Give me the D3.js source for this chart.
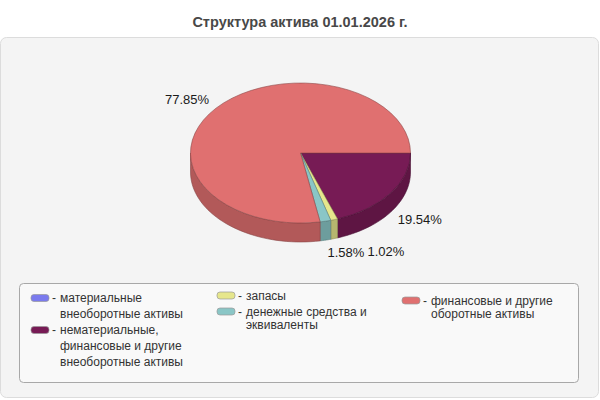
<!DOCTYPE html>
<html>
<head>
<meta charset="UTF-8" />
<title>Структура актива 01.01.2026 г.</title>
<script src="https://cdn.jsdelivr.net/npm/d3@7"></script>
<style>
body { margin:0; background:#fff; }
text { font-family: "Liberation Sans", Arial, sans-serif; }
</style>
</head>
<body>
<div id="chart"></div>
<script type="text/javascript">
// data
var title = 'Структура актива 01.01.2026 г.';
var categories = ['материальные внеоборотные активы',
                  'нематериальные, финансовые и другие внеоборотные активы',
                  'запасы',
                  'денежные средства и эквиваленты',
                  'финансовые и другие оборотные активы'];
var values = [0, 19.54, 1.02, 1.58, 77.85];
var colors = ['#7b7bee', '#771b55', '#e6e68c', '#8ac6c6', '#e07070'];
// legend lines (wrapped as in picture), column of each item
var legendLines = [['материальные', 'внеоборотные активы'],
                   ['нематериальные,', 'финансовые и другие', 'внеоборотные активы'],
                   ['запасы'],
                   ['денежные средства и', 'эквиваленты'],
                   ['финансовые и другие', 'оборотные активы']];
var legendCol = [0, 0, 1, 1, 2];

var w = 600, h = 400;
var cx = 300.5, cy = 153, rx = 110, ry = 70, depth = 19;

var svg = d3.select('#chart').append('svg')
            .attr('width', w).attr('height', h);

svg.append('text')
   .attr('x', w/2).attr('y', 27)
   .attr('text-anchor', 'middle')
   .style('font-size', '14.5px').style('font-weight', 'bold')
   .attr('fill', '#484848')
   .text(title);

svg.append('rect')
   .attr('x', 0.5).attr('y', 37.5).attr('width', 598).attr('height', 360)
   .attr('rx', 6)
   .attr('fill', '#f4f4f4').attr('stroke', '#dcdcdc');

// pie: d3 angle 0 is at 12 o'clock, the chart starts at 3 o'clock
var pie = d3.pie().sort(null).value(function(d){ return d; })
            .startAngle(Math.PI/2).endAngle(Math.PI/2 + 2*Math.PI);
var arcs = pie(values);
var arc = d3.arc().innerRadius(0).outerRadius(rx);

function pt(t, r1, r2, dy){
  return [cx + r1*Math.cos(t), cy + r2*Math.sin(t) + (dy||0)];
}

// side walls (front half only)
var sides = svg.append('g');
var line = d3.line();
arcs.forEach(function(a, i){
  if (a.value <= 0) return;
  var t0 = a.startAngle - Math.PI/2, t1 = a.endAngle - Math.PI/2;
  // bring into the range where the front part is [0, PI]
  [0, 2*Math.PI].forEach(function(off){
    var s = Math.max(t0 - off, 0), e = Math.min(t1 - off, Math.PI);
    if (e <= s) return;
    var n = 40, top = [], bot = [];
    for (var k = 0; k <= n; k++){
      var t = s + (e - s)*k/n;
      top.push(pt(t, rx, ry));
      bot.push(pt(t, rx, ry, depth));
    }
    var c = d3.color(colors[i]).darker(0.65);
    sides.append('path')
         .attr('d', line(top.concat(bot.reverse())) + 'Z')
         .attr('fill', c)
         .attr('stroke', d3.color(colors[i]).darker(1.4))
         .attr('stroke-width', 0.6);
  });
});

// top faces
var tops = svg.append('g')
              .attr('transform', 'translate(' + cx + ',' + cy + ') scale(1,' + (ry/rx) + ')');
tops.selectAll('path')
    .data(arcs.filter(function(a){ return a.value > 0; }))
    .enter()
    .append('path')
    .attr('d', arc)
    .attr('fill', function(d){ return colors[d.index]; })
    .attr('stroke', function(d){ return d3.color(colors[d.index]).darker(1.3); })
    .attr('stroke-width', 0.6)
    .attr('vector-effect', 'non-scaling-stroke');

// labels
var lab = svg.append('g');
var labels = [];
arcs.forEach(function(a){
  if (a.value <= 0) return;
  var t = (a.startAngle + a.endAngle)/2 - Math.PI/2;
  var p = pt(t, rx + 9, ry + 13, Math.sin(t) > 0 ? depth : 0);
  var right = Math.cos(t) >= 0;
  var el = lab.append('text')
              .attr('x', p[0]).attr('y', p[1])
              .attr('dy', '0.35em')
              .attr('text-anchor', right ? 'start' : 'end')
              .style('font-size', '13px')
              .attr('fill', '#1a1a1a')
              .text(d3.format('.2f')(a.value) + '%');
  labels.push({el: el, x: p[0], y: p[1], right: right, w: el.node().getComputedTextLength()});
});
// push overlapping labels apart to the right
labels.filter(function(l){ return l.right; })
      .sort(function(a, b){ return a.x - b.x; })
      .forEach(function(l, i, arr){
        for (var j = 0; j < i; j++){
          var o = arr[j];
          if (Math.abs(o.y - l.y) < 13 && l.x < o.x + o.w + 3){
            l.x = o.x + o.w + 3;
          }
        }
        l.el.attr('x', l.x);
      });

// legend
var colX = [31, 217, 402];
var colY = [298, 295.5, 300.5];
var colGap = [16, 13.5, 13.5];
svg.append('rect')
   .attr('x', 19.5).attr('y', 283.5).attr('width', 559).attr('height', 99)
   .attr('rx', 4)
   .attr('fill', '#f9f9f9').attr('stroke', '#a8a8a8');
var cursor = colY.slice();
categories.forEach(function(c, i){
  var col = legendCol[i], y = cursor[col], x = colX[col];
  var g = svg.append('g');
  g.append('rect')
   .attr('x', x).attr('y', y - 3.5).attr('width', 18).attr('height', 7)
   .attr('rx', 3)
   .attr('fill', colors[i]).attr('stroke', '#9a9a9a').attr('stroke-width', 0.7);
  g.append('text')
   .attr('x', x + 21).attr('y', y).attr('dy', '0.35em')
   .style('font-size', '12px').attr('fill', '#333')
   .text('-');
  legendLines[i].forEach(function(t, k){
    g.append('text')
     .attr('x', x + 29).attr('y', y + k*colGap[col]).attr('dy', '0.35em')
     .style('font-size', '12px').attr('fill', '#333')
     .text(t);
  });
  cursor[col] = y + (legendLines[i].length - 1)*colGap[col] + 16;
});
</script>
</body>
</html>
